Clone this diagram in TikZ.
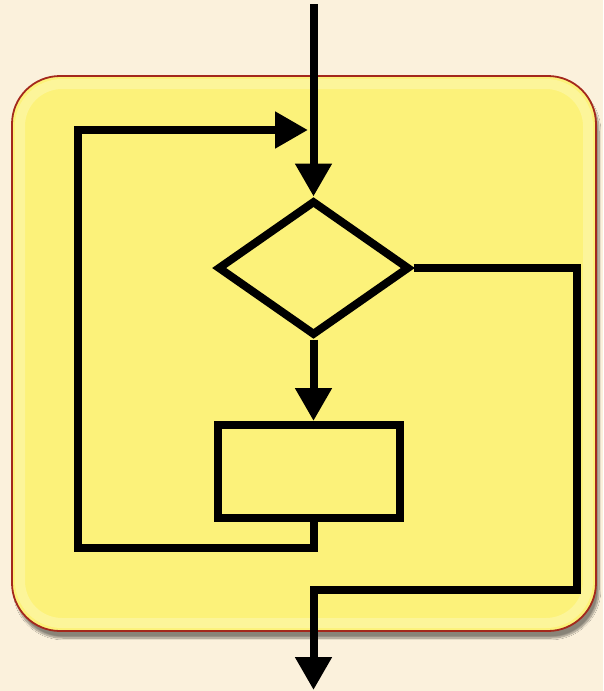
\documentclass[tikz,border=0pt]{standalone}
\usetikzlibrary{arrows.meta,shapes.geometric,shadows.blur}
\definecolor{parchment}{HTML}{FBF1DC}
\definecolor{panelfill}{HTML}{FCF27A}
\definecolor{panelglow}{HTML}{FDF7A8}
\definecolor{paneledge}{HTML}{A3281C}
\tikzset{
  flow/.style={line width=8pt, draw=black},
  flowarrow/.style={flow, -{Triangle[width=35pt,length=33pt]}},
  decision/.style={diamond, flow, minimum width=192pt, minimum height=135pt, inner sep=0pt},
  stepbox/.style={rectangle, flow, minimum width=182pt, minimum height=93pt, inner sep=0pt},
}
\begin{document}
\begin{tikzpicture}[x=1pt, y=-1pt]
  % page and background
  \fill[parchment] (0,0) rectangle (603,691);
  \useasboundingbox (0,0) rectangle (603,691);

  % yellow panel with shadow
  \path[fill=panelfill, rounded corners=48pt,
        blur shadow={shadow xshift=3pt, shadow yshift=-7pt, shadow blur steps=12, shadow opacity=45}]
    (12,76) rectangle (596,631);
  \draw[panelglow, line width=10pt, rounded corners=42pt, opacity=0.7]
    (20,84) rectangle (588,623);
  \draw[paneledge, line width=1.8pt, rounded corners=48pt]
    (12,76) rectangle (596,631);

  % flowchart elements
  \node[decision] (test) at (313.5,268) {};
  \node[stepbox] (body) at (309,471.5) {};

  \coordinate (entry) at (313.5,4);
  \coordinate (merge) at (313.5,130);
  \coordinate (loopbl) at (78,548);
  \coordinate (loopbot) at (313.5,548);
  \coordinate (loopl) at (78,130);
  \coordinate (arrowend) at (308,130);
  \coordinate (exitr) at (577,268);
  \coordinate (exitdr) at (577,590);
  \coordinate (exitdl) at (313.5,590);
  \coordinate (exitend) at (313.5,690);

  % entry into the test
  \draw[flow] (entry) -- (merge);
  \draw[flowarrow] (merge) -- (test.north);

  % true branch into the loop body
  \draw[flowarrow] (test.south) -- (test.south |- body.north);

  % loop back from body to the merge point
  \draw[flow] (body.south -| loopbot) -- (loopbot) -- (loopbl) -- (loopl) -- (82,130);
  \draw[flowarrow] (loopl) -- (arrowend);

  % exit branch
  \draw[flow, line join=miter] (test.east) -- (exitr) -- (exitdr) -- (exitdl) -- (313.5,594);
  \draw[flowarrow] (exitdl) -- (exitend);
\end{tikzpicture}
\end{document}
